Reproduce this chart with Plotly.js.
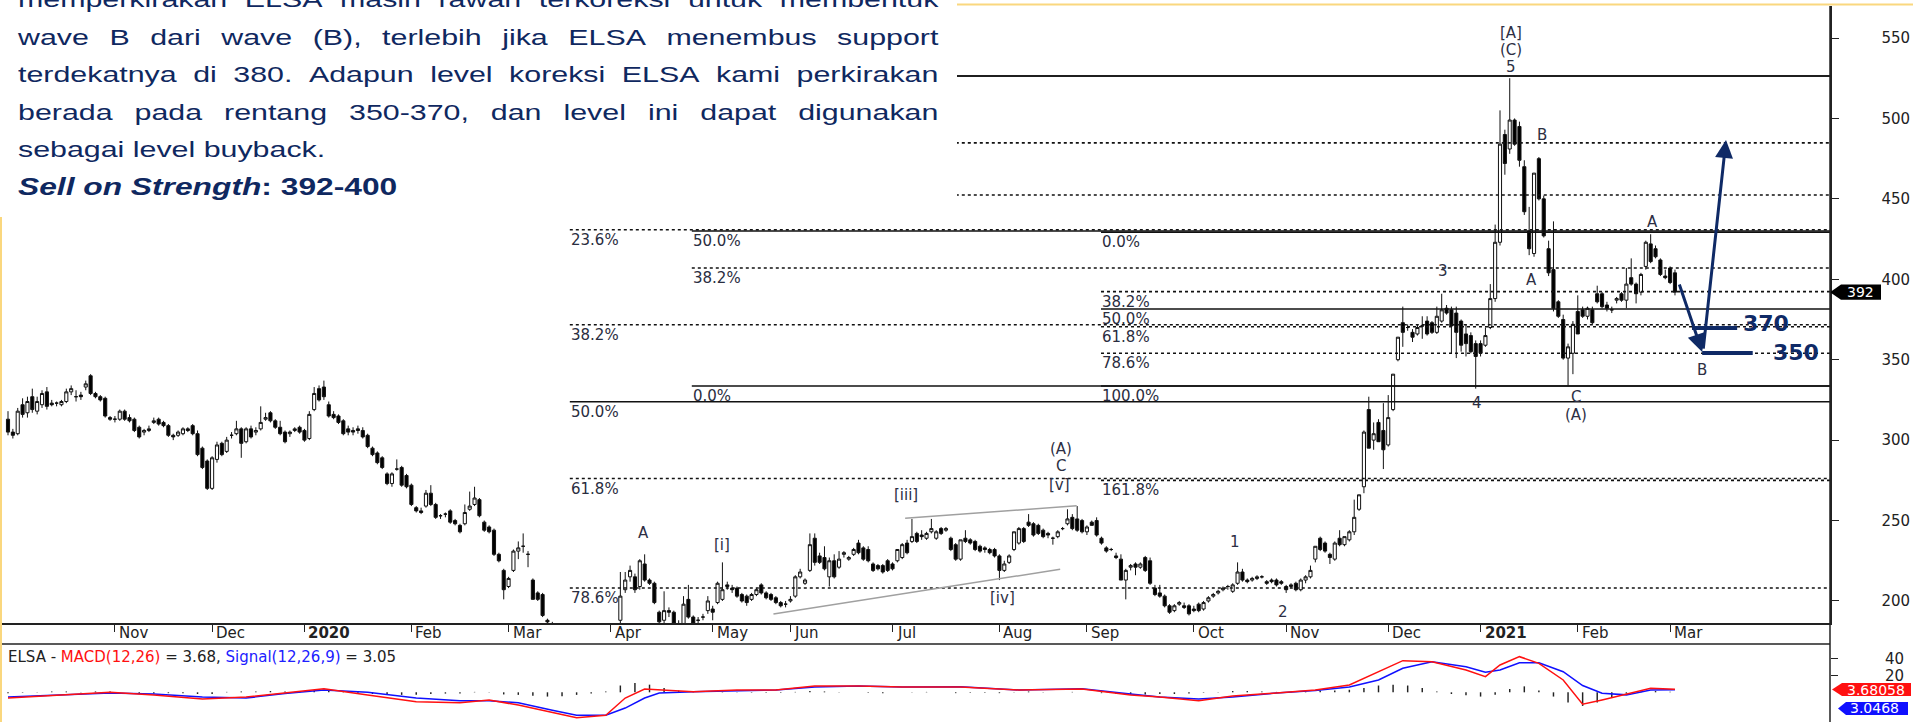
<!DOCTYPE html>
<html>
<head>
<meta charset="utf-8">
<script src="https://cdn.plot.ly/plotly-3.0.1.min.js"></script>
<style>
  html, body { margin: 0; padding: 0; background: #fff; }
  #wrap { position: relative; width: 1913px; height: 722px; overflow: hidden; }
  #chart { position: absolute; left: 0; top: 0; width: 1913px; height: 722px; }
  #note { position: absolute; left: 0; top: 0; width: 957px; height: 217px; background: #fff; overflow: hidden;
          color: #0f2860; font-family: "Liberation Sans", Arial, sans-serif; }
  .ln { position: absolute; left: 18px; width: 667px; height: 22px; line-height: 22px; font-size: 22px;
        white-space: nowrap; transform: scaleX(1.38); transform-origin: 0 0; }
  .just { display: flex; justify-content: space-between; }
  .bold { font-size: 23px; font-weight: bold; }
</style>
</head>
<body>
<div id="wrap">
  <div id="chart"></div>
  <div id="note"></div>
</div>
<script>
// ---- daily candles, ELSA, Oct 2019 - Mar 2021 (one value per trading day) ----
const open = [
  // Oct 2019
  313,305,304,322,317,327,318,322,330,323,323,322,324,330,327,328,333,340,329,327,326,314,
  // Nov
  313,313,318,314,313,308,305,306,311,313,311,309,303,303,304,307,309,304,295,287,
  // Dec
  270,288,298,293,303,304,307,299,307,305,307,313,317,312,308,305,304,306,308,
  // Jan 2020
  306,301,319,332,333,322,316,315,312,307,306,307,306,303,295,292,289,279,273,282,283,278,
  // Feb
  272,258,256,259,267,260,253,254,256,250,247,248,257,260,263,249,246,244,229,219,
  // Mar
  209,219,231,234,229,213,205,204,188,185,176,170,162,168,160,150,158,166,175,170,172,
  // Apr
  178,180,188,207,215,215,209,223,213,211,193,188,194,193,186,186,201,190,188,190,194,
  // May
  195,199,201,210,208,208,204,203,201,204,210,205,204,202,199,198,
  // Jun
  200,203,215,211,219,239,228,227,215,225,221,229,226,229,236,233,232,223,222,222,225,
  // Jul
  223,225,227,236,237,242,241,239,243,239,245,244,239,235,226,239,238,237,234,233,232,232,
  // Aug
  228,219,224,232,236,245,249,248,247,244,242,239,240,245,248,252,251,250,
  // Sep
  243,249,250,239,233,232,228,226,213,221,223,221,227,225,208,205,203,197,194,198,197,197,
  // Oct
  195,198,195,200,203,205,207,209,206,211,218,213,213,214,215,212,213,213,212,
  // Nov
  209,209,211,207,213,215,226,239,236,229,226,239,235,238,243,257,271,319,300,311,306,
  // Dec
  297,319,350,373,370,367,366,371,374,373,367,374,382,381,379,374,366,365,360,
  // Jan 2021
  360,359,370,388,423,490,481,499,495,470,430,416,475,450,419,406,386,375,351,354,
  // Feb
  380,381,377,381,391,391,384,381,387,391,387,401,397,392,408,422,419,412,402,
  // Mar
  407,404
];
const high = [
  318,307,320,326,327,332,327,331,333,325,324,325,332,334,331,330,337,341,330,328,327,315,
  315,319,319,316,314,309,307,309,314,314,312,310,304,306,308,308,310,306,296,288,
  290,299,299,302,305,312,308,308,309,308,321,317,318,313,312,306,306,308,309,
  307,318,333,334,337,324,318,316,313,309,308,309,308,304,296,293,290,280,280,288,284,279,
  273,259,258,269,272,261,254,255,257,251,248,260,268,271,264,250,247,245,230,220,
  215,232,237,242,231,214,206,205,189,187,180,175,170,172,165,160,170,178,182,176,180,
  184,186,218,218,222,217,226,229,214,212,194,206,196,194,188,203,210,191,190,192,203,
  197,212,224,212,210,209,205,204,205,208,211,206,205,203,200,200,
  203,216,220,214,242,242,230,234,227,229,231,231,228,233,238,234,234,224,223,223,226,
  224,232,236,238,251,243,244,243,251,244,246,246,240,236,238,244,239,238,235,234,233,233,
  229,225,229,243,246,246,254,249,248,245,243,240,244,246,257,254,259,251,
  247,250,252,240,234,233,230,229,220,223,224,224,228,227,210,210,204,198,198,200,199,198,
  197,199,200,203,205,207,209,210,211,224,220,214,215,216,216,213,214,214,213,
  210,211,212,214,216,222,234,240,237,230,237,244,240,244,263,266,306,327,311,313,323,
  328,341,364,383,372,369,372,377,377,374,383,391,384,383,383,375,372,367,362,
  362,370,397,434,505,493,525,500,498,474,445,466,476,452,424,436,387,378,360,374,
  390,383,383,383,396,392,386,383,389,392,407,413,398,404,424,428,421,413,406,
  408,406
];
const low = [
  303,301,303,314,314,317,316,320,319,321,321,321,323,328,324,325,331,328,326,324,314,312,
  311,312,312,311,305,301,303,305,310,309,308,302,300,302,303,305,303,290,282,269,
  269,286,290,292,301,303,289,298,301,303,306,312,311,307,303,298,302,305,304,
  299,300,318,324,325,314,313,310,303,303,303,304,301,295,290,285,282,272,271,281,271,270,
  259,255,254,258,259,251,251,252,248,247,242,247,256,259,252,243,242,228,224,201,
  208,218,226,230,221,201,200,190,186,175,168,160,158,160,150,145,155,160,168,165,170,
  172,176,185,205,212,205,207,212,210,198,186,186,190,185,180,184,189,185,186,188,192,
  188,198,200,207,205,202,199,197,200,203,204,201,200,198,196,196,
  199,202,214,210,218,222,223,219,209,214,220,227,225,228,229,225,224,218,219,217,218,
  219,224,226,229,236,236,238,238,242,238,241,243,231,225,225,236,235,231,230,230,229,227,
  213,218,223,231,235,236,246,240,241,239,239,235,239,244,247,244,243,242,
  241,247,240,235,230,231,226,213,201,219,216,220,218,210,203,202,196,192,193,197,195,191,
  193,193,194,199,202,204,206,207,205,210,212,211,212,213,214,210,211,209,210,
  205,208,206,206,211,214,224,231,230,223,225,234,234,237,241,256,267,295,294,299,282,
  296,318,349,358,368,361,365,363,365,366,366,373,378,354,351,355,352,354,332,
  352,358,369,386,421,465,478,483,470,440,415,414,449,426,402,380,376,350,334,341,
  366,376,375,372,385,382,380,379,385,386,382,396,385,390,406,410,413,402,400,
  397,390
];
const close = [
  305,303,318,316,324,319,324,329,321,322,323,324,330,332,327,327,335,329,327,325,315,313,
  313,318,313,312,306,302,306,307,312,310,309,303,302,305,307,306,304,291,283,270,
  289,297,291,300,303,307,298,307,302,306,311,314,312,308,304,299,305,307,305,
  300,316,329,325,327,315,314,311,304,305,305,306,302,296,291,286,283,273,279,282,272,271,
  260,256,255,267,260,252,253,254,249,248,243,255,259,264,253,244,243,229,225,207,
  214,231,233,234,229,201,201,191,187,178,170,163,168,162,152,158,166,175,170,172,178,
  180,183,203,213,219,207,225,213,211,199,187,194,193,186,184,198,190,186,188,190,200,
  193,211,207,209,207,203,200,199,204,207,205,202,201,199,197,198,
  201,215,218,213,235,224,224,220,225,215,226,230,227,232,230,226,225,219,220,218,219,
  220,232,235,230,240,237,240,242,245,243,242,245,232,226,238,237,236,232,231,232,230,228,
  219,223,228,243,245,237,247,241,242,240,241,239,243,245,251,245,244,243,
  246,247,241,236,231,232,227,213,219,222,221,223,219,211,204,203,197,193,197,199,196,192,
  194,194,199,202,204,206,208,209,210,218,213,212,214,215,215,211,212,210,211,
  207,210,207,213,215,219,234,232,231,227,236,235,240,243,252,266,305,295,304,299,294,
  314,341,364,367,370,364,370,371,366,367,377,381,379,371,367,359,360,355,352,
  354,365,388,423,484,472,499,484,474,442,419,466,450,427,404,382,377,351,358,372,
  366,377,382,373,386,383,382,381,388,387,397,397,391,403,423,411,414,403,401,
  398,392
];
const lastPrice = 392;

// month boundaries (trading-day index of the first session) and their labels
const monthStarts = [22, 42, 61, 83, 103, 124, 145, 161, 182, 204, 222, 244, 263, 284, 303, 323, 342];
const monthLabels = ['Nov','Dec','2020','Feb','Mar','Apr','May','Jun','Jul','Aug','Sep','Oct','Nov','Dec','2021','Feb','Mar'];

// MACD(12,26) / Signal(12,26,9)
const macdDays   = [0,11,21,30,40,49,57,65,74,84,93,99,105,112,117,123,127,131,134,141,150,158,166,175,184,196,208,221,231,237,245,252,261,269,276,282,287,293,300,304,307,311,315,320,324,328,333,338,343];
const macdValues = [-6.7,-3.2,0,-3.2,-7.9,-5.5,-0.8,4.2,-3.2,-11,-12.2,-9,-15,-24,-30,-27,-6.7,3.9,2.7,0.7,2.7,2.7,7.4,7.4,6.2,6.2,2.7,3.9,-3.2,-5.5,-9.9,-4.4,-0.8,2.7,8.6,24.2,37.2,36,26.2,18.4,32.1,41.9,34.1,14.5,-14,-9,-2,4.7,3.68];
const signalValues = [-5.5,-3.2,-0.8,-2.1,-5.5,-6.7,-1.5,2.7,0,-6.7,-9.9,-9.9,-12.2,-21,-27,-27,-18.5,-6.7,-0.8,0.7,2.2,2.7,6.2,7.4,6.2,6.6,2.7,4.2,-2.1,-5.5,-7.9,-5.5,-0.8,2.2,6.2,14.5,28.2,36,30.1,23.5,26.2,34.8,34.8,24.2,8,-1,-3,2.7,3.05];
// histogram, one bar every third session from day 0
const histValues = [
  -1,-0.5,0.5,1,1,0.5,1,1,0,-1,-1.5,-1,-1,-2,-2,0.5,1,1,1.5,1,
  0.5,2,2,0.5,-1,-2,-3,-3,-3,-2,-1.5,-1.5,0.5,0.5,-2.5,-3,-4,-5,-4.5,-3,
  -1.5,1,8,11,9,5,2,0.5,0,0.5,0.5,-0.5,-0.5,-0.5,0.5,1.5,1,0.5,0,-0.5,
  -1,0,0.5,0.5,0,-1,-0.5,-0.5,-1,0.5,1,0.5,0,0.5,0,-1,-2,-2.5,-2.5,-2,
  -2,-1.5,-0.5,0.5,1.5,1.5,1,0.5,0.5,1,2,2,3,5,8,9,8,5,1,-2,
  -3.5,-5,-3,4,7,2,-5,-12,-16,-12,-6,-1.5,1,1.5,0.6
];
const HIST_STEP = 3;
const macdLast = '3.68058', signalLast = '3.0468';

// Fibonacci tools: anchor day, levels and their labels (null = label hidden by the note box)
const fibA = { start: 115.6, levels: [526.4, 430.8, 371.7, 323.9, 276.1, 208.1], labels: [null,'23.6%','38.2%','50.0%','61.8%','78.6%'], solid: [1,0,0,1,0,0] };
const fibB = { start: 140.7, levels: [333.7, 407, 430, 452.4, 484.8, 526.4], labels: ['0.0%','38.2%','50.0%',null,null,null], solid: [1,0,1,0,0,1] };
const fibC = { start: 224.9, levels: [429.2, 392.3, 381.5, 370.5, 354, 333.7, 275], labels: ['0.0%','38.2%','50.0%','61.8%','78.6%','100.0%','161.8%'], solid: [1,0,1,0,0,1,0] };

// Elliott wave labels
const waveText = ['[A]','(C)','5','B','A','3','A','4','C','(A)','B','1','2','(A)','C','[v]','[iii]','[iv]','A','[i]'];
const waveDay  = [309.3,309.3,309.3,315.6,338.3,295.3,313.4,302.3,322.6,322.6,348.6,252.5,262.3,216.7,216.7,216.3,184.8,204.7,130.7,146.9];
const wavePrice = [553.1,542.5,532,489.7,435.6,405,399.5,323,326.8,315.6,343.6,236.7,193,294.5,283.9,272,265.9,201.8,242.3,234.8];

// diagonal channel [iii]-[v] / [iv]
const channelDays = [[184.6, 219.9], [157.5, 216.5]];
const channelPrices = [[251.4, 259.2], [191.9, 219.7]];

// projected path and target levels
const pathDays = [343.8, 348.6, 348.8, 353.5];
const pathPrices = [397.7, 354.8, 356, 486.6];
const targetLabels = ['370', '350'];
const targetPrices = [369.7, 354.2];
const targetDays = [[346.5, 355.8], [348.6, 359]];

const noteLines = [
  'memperkirakan ELSA masih rawan terkoreksi untuk membentuk',
  'wave B dari wave (B), terlebih jika ELSA menembus support',
  'terdekatnya di 380. Adapun level koreksi ELSA kami perkirakan',
  'berada pada rentang 350-370, dan level ini dapat digunakan',
  'sebagai level buyback.'
];

// ---- layout geometry (pixels of the 1913x722 page) ----
const W = 1913, H = 722;
const axisX = 1830;
const xDomEnd = axisX / W;
const xRange = [-1.646, 374.9];
const NAVY = '#0f2a66';
const FONT = 'DejaVu Sans';
const py = px => 1 - px / H;     // page pixel row -> paper y
const pxX = px => px / W;        // page pixel column -> paper x

const dayIndex = open.map((_, i) => i);
const histDays = histValues.map((_, i) => i * HIST_STEP);

const traces = [
  {
    type: 'candlestick', x: dayIndex, open: open, high: high, low: low, close: close,
    increasing: { line: { color: '#111', width: 1 }, fillcolor: '#ffffff' },
    decreasing: { line: { color: '#111', width: 1 }, fillcolor: '#000000' },
    whiskerwidth: 0, hoverinfo: 'skip', showlegend: false, xaxis: 'x', yaxis: 'y'
  },
  {
    type: 'bar', x: histDays, y: histValues, width: 0.3, marker: { color: '#222', line: { width: 0 } },
    xaxis: 'x2', yaxis: 'y2', showlegend: false, hoverinfo: 'skip'
  },
  {
    type: 'scatter', mode: 'lines', x: macdDays, y: signalValues, line: { color: '#1010ff', width: 1.5 },
    xaxis: 'x2', yaxis: 'y2', showlegend: false, hoverinfo: 'skip'
  },
  {
    type: 'scatter', mode: 'lines', x: macdDays, y: macdValues, line: { color: '#ff1010', width: 1.5 },
    xaxis: 'x2', yaxis: 'y2', showlegend: false, hoverinfo: 'skip'
  }
];

const shapes = [];
const annotations = [];

// Fibonacci lines and labels
[fibA, fibB, fibC].forEach(f => {
  f.levels.forEach((lv, i) => {
    shapes.push({
      type: 'line', xref: 'x', yref: 'y', x0: f.start, x1: xRange[1], y0: lv, y1: lv,
      line: { color: '#111', width: f.solid[i] ? 1.5 : 1.6, dash: f.solid[i] ? 'solid' : '3px,3px' }
    });
    if (f.labels[i]) {
      annotations.push({
        xref: 'x', yref: 'y', x: f.start, y: lv, xanchor: 'left', yanchor: 'top', showarrow: false,
        text: f.labels[i], font: { family: FONT, size: 15, color: '#2a2d40' }, borderpad: 0
      });
    }
  });
});

// channel lines
channelDays.forEach((d, i) => {
  shapes.push({ type: 'line', xref: 'x', yref: 'y', x0: d[0], x1: d[1], y0: channelPrices[i][0], y1: channelPrices[i][1],
    line: { color: '#a0a0a0', width: 1.5 } });
});

// wave labels
waveText.forEach((t, i) => {
  annotations.push({ xref: 'x', yref: 'y', x: waveDay[i], y: wavePrice[i], text: t, showarrow: false,
    xanchor: 'center', yanchor: 'middle', font: { family: FONT, size: 15, color: '#2d2f44' } });
});

// projected path arrows
annotations.push({ xref: 'x', yref: 'y', axref: 'x', ayref: 'y', x: pathDays[1], y: pathPrices[1], ax: pathDays[0], ay: pathPrices[0],
  showarrow: true, arrowhead: 2, arrowsize: 1.2, arrowwidth: 3, arrowcolor: NAVY, text: '', standoff: 0 });
annotations.push({ xref: 'x', yref: 'y', axref: 'x', ayref: 'y', x: pathDays[3], y: pathPrices[3], ax: pathDays[2], ay: pathPrices[2],
  showarrow: true, arrowhead: 2, arrowsize: 1.2, arrowwidth: 3, arrowcolor: NAVY, text: '', standoff: 0 });

// target levels
targetLabels.forEach((t, i) => {
  shapes.push({ type: 'line', xref: 'x', yref: 'y', x0: targetDays[i][0], x1: targetDays[i][1], y0: targetPrices[i], y1: targetPrices[i],
    line: { color: NAVY, width: 4 } });
  annotations.push({ xref: 'x', yref: 'y', x: targetDays[i][1], y: targetPrices[i] + (i === 0 ? 2.5 : 0), xanchor: 'left', yanchor: 'middle',
    xshift: i === 0 ? 4 : 18, text: '<b>' + t + '</b>', showarrow: false, font: { family: FONT, size: 22, color: NAVY } });
});

// last price tag
shapes.push({ type: 'path', xref: 'paper', yref: 'y', fillcolor: '#000', line: { width: 0 },
  path: `M ${pxX(axisX)},${lastPrice} L ${pxX(1841)},${lastPrice + 4.8} L ${pxX(1881)},${lastPrice + 4.8} L ${pxX(1881)},${lastPrice - 4.8} L ${pxX(1841)},${lastPrice - 4.8} Z` });
annotations.push({ xref: 'paper', yref: 'y', x: pxX(1860), y: lastPrice, xanchor: 'center', yanchor: 'middle',
  text: String(lastPrice), showarrow: false, font: { family: FONT, size: 14, color: '#fff' } });

// MACD tags
shapes.push({ type: 'path', xref: 'paper', yref: 'y2', fillcolor: '#ff1010', line: { width: 0 },
  path: `M ${pxX(1832)},3.3 L ${pxX(1842)},10.9 L ${pxX(1911)},10.9 L ${pxX(1911)},-4.4 L ${pxX(1842)},-4.4 Z` });
annotations.push({ xref: 'paper', yref: 'y2', x: pxX(1876), y: 3.3, xanchor: 'center', yanchor: 'middle',
  text: macdLast, showarrow: false, font: { family: FONT, size: 14, color: '#fff' } });
shapes.push({ type: 'path', xref: 'paper', yref: 'y2', fillcolor: '#1010ff', line: { width: 0 },
  path: `M ${pxX(1838)},-19 L ${pxX(1846)},-11.4 L ${pxX(1908)},-11.4 L ${pxX(1908)},-26.7 L ${pxX(1846)},-26.7 Z` });
annotations.push({ xref: 'paper', yref: 'y2', x: pxX(1874), y: -19, xanchor: 'center', yanchor: 'middle',
  text: signalLast, showarrow: false, font: { family: FONT, size: 14, color: '#fff' } });

// month labels to the right of each tick
monthStarts.forEach((d, i) => {
  const yr = /^\d{4}$/.test(monthLabels[i]);
  annotations.push({ xref: 'x', yref: 'paper', x: d, y: py(633), xanchor: 'left', yanchor: 'middle', xshift: 2,
    text: yr ? '<b>' + monthLabels[i] + '</b>' : monthLabels[i], showarrow: false,
    font: { family: FONT, size: 15, color: '#222' } });
});

// MACD title
annotations.push({ xref: 'paper', yref: 'paper', x: pxX(6), y: py(657), xanchor: 'left', yanchor: 'middle', showarrow: false,
  text: 'ELSA - <span style="color:#ff1010">MACD(12,26)</span> = 3.68, <span style="color:#2020ff">Signal(12,26,9)</span> = 3.05',
  font: { family: FONT, size: 15, color: '#222' } });

// frame lines
shapes.push({ type: 'line', xref: 'paper', yref: 'paper', x0: 0, x1: xDomEnd, y0: py(644), y1: py(644), line: { color: '#222', width: 1.5 } });
shapes.push({ type: 'line', xref: 'paper', yref: 'paper', x0: xDomEnd, x1: xDomEnd, y0: 0, y1: py(6), line: { color: '#222', width: 1.5 } });
shapes.push({ type: 'line', xref: 'paper', yref: 'paper', x0: 0, x1: 1, y0: py(4.5), y1: py(4.5), line: { color: '#fad77e', width: 2 } });
shapes.push({ type: 'line', xref: 'paper', yref: 'paper', x0: pxX(1), x1: pxX(1), y0: 0, y1: 1, line: { color: '#fad77e', width: 2 } });

const layout = {
  width: W, height: H, margin: { l: 0, r: 0, t: 0, b: 0 },
  paper_bgcolor: '#ffffff', plot_bgcolor: '#ffffff', showlegend: false,
  boxgap: 0.2, boxgroupgap: 0.2,
  font: { family: FONT, size: 15, color: '#222' },
  xaxis: {
    domain: [0, xDomEnd], range: xRange, anchor: 'y', rangeslider: { visible: false },
    showgrid: false, zeroline: false, showline: true, linecolor: '#222', linewidth: 1.5,
    tickmode: 'array', tickvals: monthStarts, ticks: 'outside', ticklen: 7, tickcolor: '#222', showticklabels: false
  },
  yaxis: {
    domain: [py(623), py(6)], range: [186.3, 569.9], side: 'right', anchor: 'x',
    showgrid: false, zeroline: false, showline: true, linecolor: '#222', linewidth: 1.5,
    tickmode: 'array', tickvals: [200, 250, 300, 350, 400, 450, 500, 550], ticks: 'outside', ticklen: 7, tickcolor: '#222',
    ticklabelstandoff: 40, tickfont: { family: FONT, size: 15, color: '#222' }
  },
  xaxis2: {
    domain: [0, xDomEnd], range: xRange, anchor: 'y2', matches: 'x',
    showgrid: false, zeroline: false, showline: false, showticklabels: false, ticks: ''
  },
  yaxis2: {
    domain: [0, py(644)], range: [-34.9, 56.8], side: 'right', anchor: 'x2',
    showgrid: false, zeroline: false, showline: false,
    tickmode: 'array', tickvals: [40, 20], ticks: 'outside', ticklen: 7, tickcolor: '#222',
    ticklabelstandoff: 44, tickfont: { family: FONT, size: 15, color: '#222' }
  },
  shapes: shapes,
  annotations: annotations
};

Plotly.newPlot('chart', traces, layout, { displayModeBar: false, staticPlot: true });

// ---- commentary box over the top-left corner ----
const note = document.getElementById('note');
const baselines = [7, 44.5, 82, 119.5, 157, 194.5];
noteLines.forEach((t, i) => {
  const div = document.createElement('div');
  div.className = 'ln';
  div.style.top = (baselines[i] - 18) + 'px';
  if (i < 4) {
    div.classList.add('just');
    t.split(' ').forEach(w => {
      const s = document.createElement('span');
      s.textContent = w;
      div.appendChild(s);
    });
  } else {
    div.textContent = t;
  }
  note.appendChild(div);
});
const sell = document.createElement('div');
sell.className = 'ln bold';
sell.style.top = (baselines[5] - 19) + 'px';
sell.innerHTML = '<i>Sell on Strength</i>: 392-400';
note.appendChild(sell);
</script>
</body>
</html>
